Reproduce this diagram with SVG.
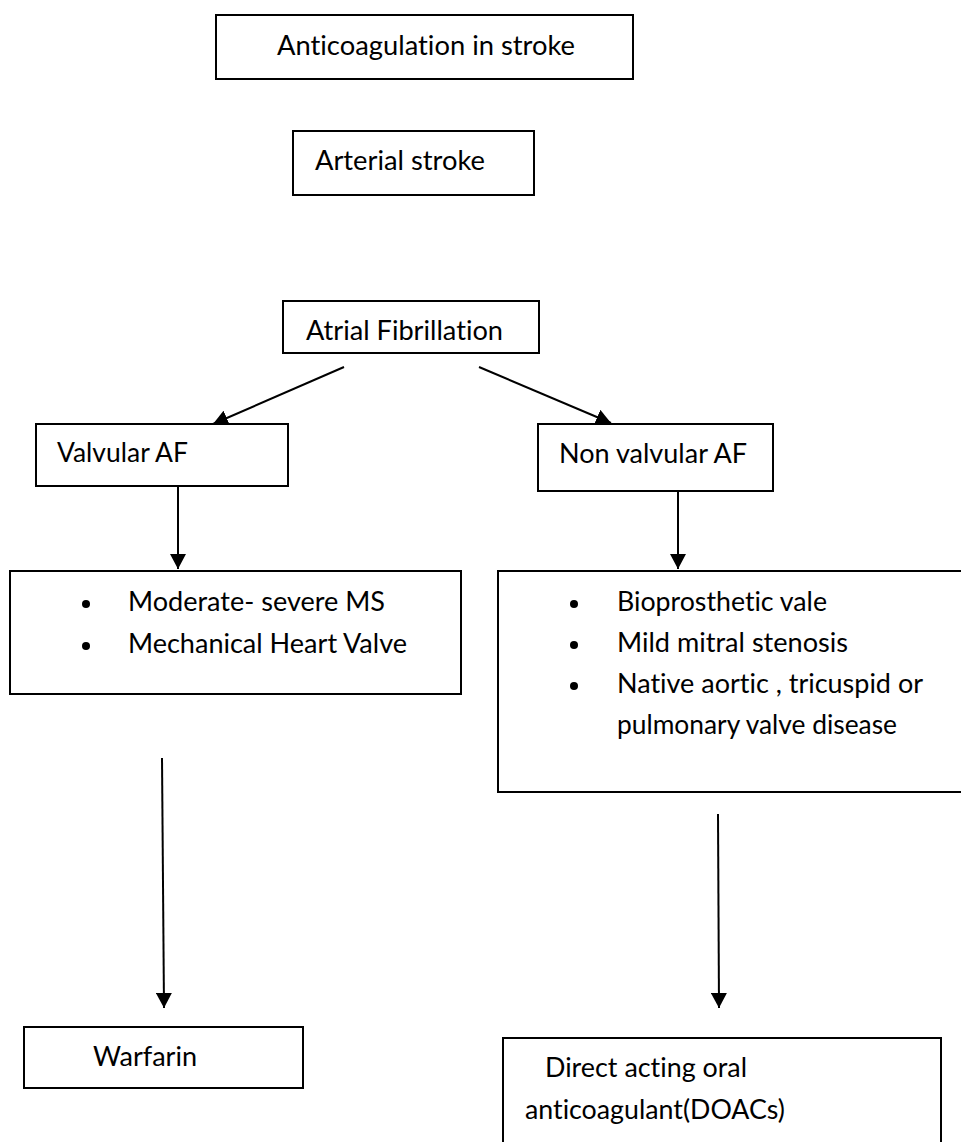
<svg xmlns="http://www.w3.org/2000/svg" width="961" height="1142" viewBox="0 0 961 1142">
  <style>
    .box { fill: #ffffff; stroke: #000000; stroke-width: 2; }
    .lbl { font-family: Lato, "Open Sans", "Liberation Sans", sans-serif; font-size: 26px; fill: #000000; font-variant-ligatures: none; font-feature-settings: "liga" 0, "clig" 0; }
    .edge { fill: none; stroke: #000000; stroke-width: 2; }
    .dot { fill: #000000; }
  </style>
  <defs>
    <marker id="arrow" markerUnits="userSpaceOnUse" markerWidth="16" markerHeight="16" refX="15" refY="8" orient="auto">
      <path d="M0,0 L15,8 L0,16 z" fill="#000000"/>
    </marker>
  </defs>
  <rect x="0" y="0" width="961" height="1142" fill="#ffffff"/>

  <g id="connectors">
    <line class="edge" x1="344" y1="367" x2="213" y2="424" marker-end="url(#arrow)"/>
    <line class="edge" x1="479" y1="367" x2="611" y2="423" marker-end="url(#arrow)"/>
    <line class="edge" x1="178" y1="487" x2="178" y2="569" marker-end="url(#arrow)"/>
    <line class="edge" x1="678" y1="492" x2="678" y2="569" marker-end="url(#arrow)"/>
    <line class="edge" x1="162" y1="758" x2="164" y2="1008" marker-end="url(#arrow)"/>
    <line class="edge" x1="718" y1="814" x2="719" y2="1008" marker-end="url(#arrow)"/>
  </g>

  <g id="node-anticoagulation">
    <rect class="box" x="216" y="15" width="417" height="64"/>
    <text class="lbl" x="277" y="55" textLength="298" lengthAdjust="spacingAndGlyphs">Anticoagulation in stroke</text>
  </g>

  <g id="node-arterial">
    <rect class="box" x="293" y="131" width="241" height="64"/>
    <text class="lbl" x="315" y="170" textLength="170" lengthAdjust="spacingAndGlyphs">Arterial stroke</text>
  </g>

  <g id="node-af">
    <rect class="box" x="283" y="301" width="256" height="52"/>
    <text class="lbl" x="306" y="340" textLength="197" lengthAdjust="spacingAndGlyphs">Atrial Fibrillation</text>
  </g>

  <g id="node-valvular">
    <rect class="box" x="36" y="424" width="252" height="62"/>
    <text class="lbl" x="57" y="462" textLength="131" lengthAdjust="spacingAndGlyphs">Valvular AF</text>
  </g>

  <g id="node-nonvalvular">
    <rect class="box" x="538" y="424" width="235" height="67"/>
    <text class="lbl" x="559" y="463" textLength="188" lengthAdjust="spacingAndGlyphs">Non valvular AF</text>
  </g>

  <g id="node-valvular-list">
    <rect class="box" x="10" y="571" width="451" height="123"/>
    <circle class="dot" cx="86" cy="604" r="4"/>
    <text class="lbl" x="128" y="611" textLength="257" lengthAdjust="spacingAndGlyphs">Moderate- severe MS</text>
    <circle class="dot" cx="86" cy="646" r="4"/>
    <text class="lbl" x="128" y="653" textLength="279" lengthAdjust="spacingAndGlyphs">Mechanical Heart Valve</text>
  </g>

  <g id="node-nonvalvular-list">
    <rect class="box" x="498" y="571" width="470" height="221"/>
    <circle class="dot" cx="574" cy="604" r="4"/>
    <text class="lbl" x="617" y="611" textLength="210" lengthAdjust="spacingAndGlyphs">Bioprosthetic vale</text>
    <circle class="dot" cx="574" cy="645" r="4"/>
    <text class="lbl" x="617" y="652" textLength="231" lengthAdjust="spacingAndGlyphs">Mild mitral stenosis</text>
    <circle class="dot" cx="574" cy="686" r="4"/>
    <text class="lbl" x="617" y="693" textLength="306" lengthAdjust="spacingAndGlyphs">Native aortic , tricuspid or</text>
    <text class="lbl" x="617" y="734" textLength="280" lengthAdjust="spacingAndGlyphs">pulmonary valve disease</text>
  </g>

  <g id="node-warfarin">
    <rect class="box" x="24" y="1027" width="279" height="61"/>
    <text class="lbl" x="93" y="1066" textLength="104" lengthAdjust="spacingAndGlyphs">Warfarin</text>
  </g>

  <g id="node-doac">
    <rect class="box" x="503" y="1038" width="438" height="120"/>
    <text class="lbl" x="545" y="1077" textLength="202" lengthAdjust="spacingAndGlyphs">Direct acting oral</text>
    <text class="lbl" x="525" y="1119" textLength="260" lengthAdjust="spacingAndGlyphs">anticoagulant(DOACs)</text>
  </g>
</svg>
